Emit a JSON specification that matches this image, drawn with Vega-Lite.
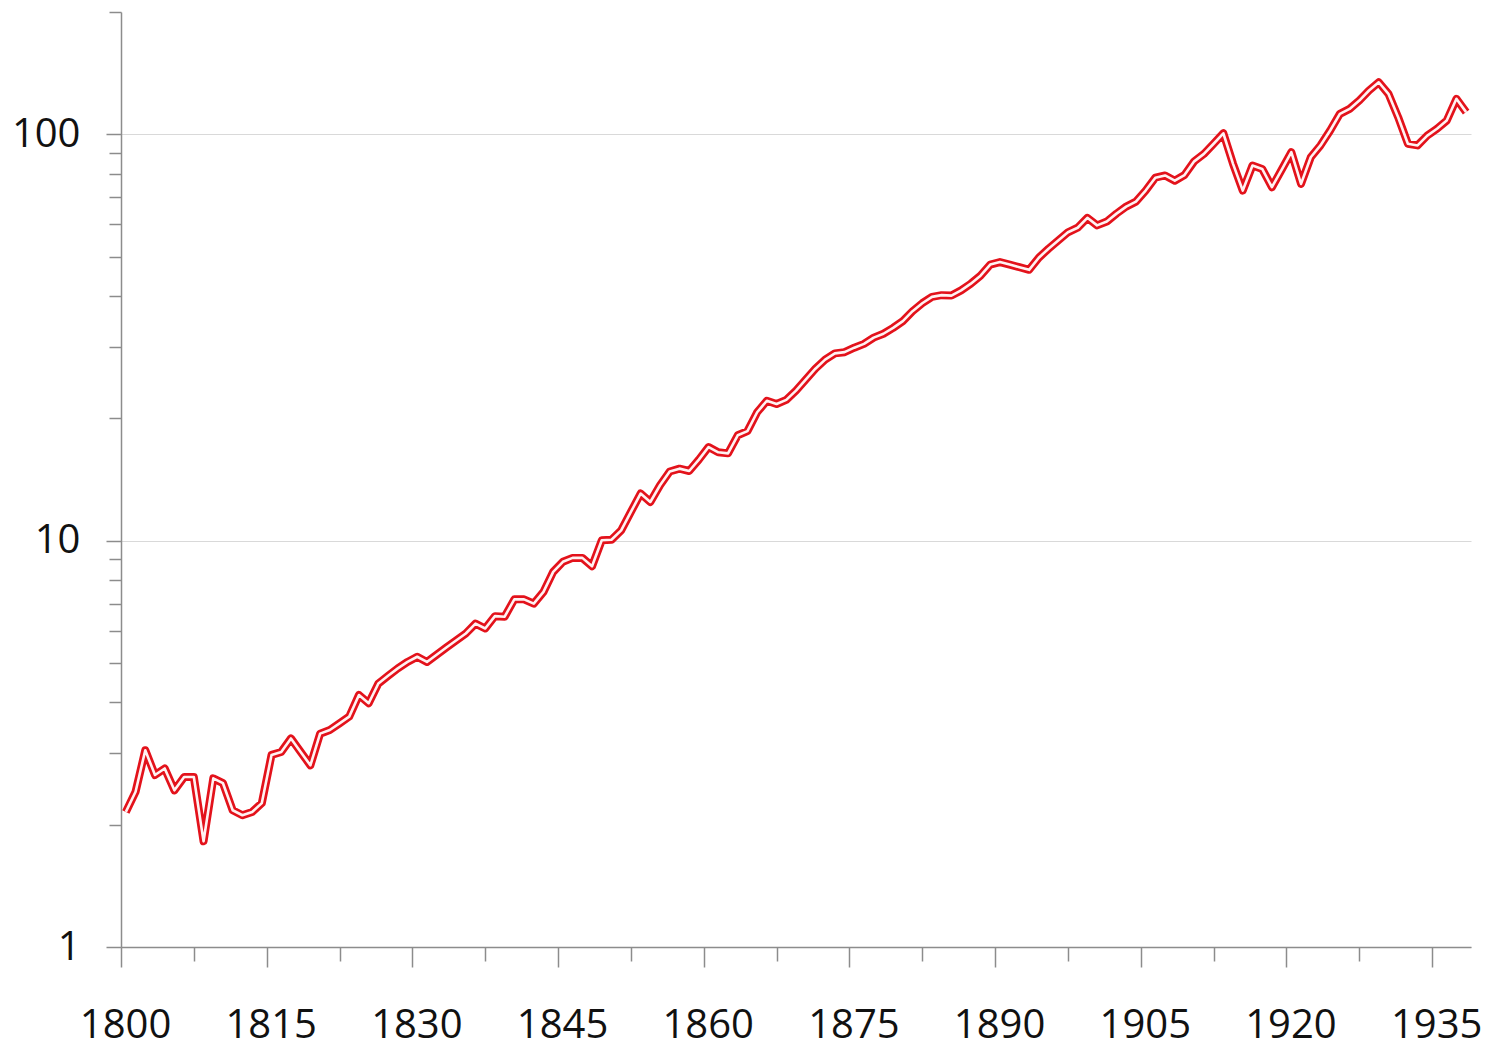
{
  "$schema": "https://vega.github.io/schema/vega-lite/v6.json",
  "width": 1350,
  "height": 935,
  "autosize": "none",
  "padding": {"left": 121, "top": 12, "right": 16, "bottom": 102},
  "background": "white",
  "config": {
    "view": {"stroke": null},
    "axis": {"labelFont": "Open Sans", "labelFontSize": 40, "labelColor": "#111111", "domainColor": "#8c8c8c", "tickColor": "#8c8c8c", "domainWidth": 1.5, "tickWidth": 1.5, "title": null, "labelFlush": false, "labelOverlap": false, "labelBound": false}
  },
  "data": {"values": [
    {"year": 1800, "value": 2.15}, {"year": 1801, "value": 2.41}, {"year": 1802, "value": 3.05}, {"year": 1803, "value": 2.65},
    {"year": 1804, "value": 2.75}, {"year": 1805, "value": 2.43}, {"year": 1806, "value": 2.62}, {"year": 1807, "value": 2.62},
    {"year": 1808, "value": 1.82}, {"year": 1809, "value": 2.6}, {"year": 1810, "value": 2.53}, {"year": 1811, "value": 2.17},
    {"year": 1812, "value": 2.11}, {"year": 1813, "value": 2.15}, {"year": 1814, "value": 2.26}, {"year": 1815, "value": 2.97},
    {"year": 1816, "value": 3.02}, {"year": 1817, "value": 3.26}, {"year": 1818, "value": 3.02}, {"year": 1819, "value": 2.8},
    {"year": 1820, "value": 3.35}, {"year": 1821, "value": 3.42}, {"year": 1822, "value": 3.55}, {"year": 1823, "value": 3.69},
    {"year": 1824, "value": 4.17}, {"year": 1825, "value": 3.98}, {"year": 1826, "value": 4.45}, {"year": 1827, "value": 4.65},
    {"year": 1828, "value": 4.85}, {"year": 1829, "value": 5.03}, {"year": 1830, "value": 5.18}, {"year": 1831, "value": 5.03},
    {"year": 1832, "value": 5.24}, {"year": 1833, "value": 5.46}, {"year": 1834, "value": 5.68}, {"year": 1835, "value": 5.91},
    {"year": 1836, "value": 6.25}, {"year": 1837, "value": 6.08}, {"year": 1838, "value": 6.52}, {"year": 1839, "value": 6.5},
    {"year": 1840, "value": 7.17}, {"year": 1841, "value": 7.17}, {"year": 1842, "value": 7.0}, {"year": 1843, "value": 7.48},
    {"year": 1844, "value": 8.38}, {"year": 1845, "value": 8.87}, {"year": 1846, "value": 9.07}, {"year": 1847, "value": 9.07},
    {"year": 1848, "value": 8.65}, {"year": 1849, "value": 10.02}, {"year": 1850, "value": 10.05}, {"year": 1851, "value": 10.6},
    {"year": 1852, "value": 11.77}, {"year": 1853, "value": 13.06}, {"year": 1854, "value": 12.45}, {"year": 1855, "value": 13.69},
    {"year": 1856, "value": 14.8}, {"year": 1857, "value": 15.04}, {"year": 1858, "value": 14.84}, {"year": 1859, "value": 15.83},
    {"year": 1860, "value": 17.0}, {"year": 1861, "value": 16.5}, {"year": 1862, "value": 16.4}, {"year": 1863, "value": 18.17},
    {"year": 1864, "value": 18.6}, {"year": 1865, "value": 20.7}, {"year": 1866, "value": 22.1}, {"year": 1867, "value": 21.7},
    {"year": 1868, "value": 22.2}, {"year": 1869, "value": 23.4}, {"year": 1870, "value": 24.9}, {"year": 1871, "value": 26.5},
    {"year": 1872, "value": 27.9}, {"year": 1873, "value": 28.9}, {"year": 1874, "value": 29.1}, {"year": 1875, "value": 29.85},
    {"year": 1876, "value": 30.5}, {"year": 1877, "value": 31.6}, {"year": 1878, "value": 32.3}, {"year": 1879, "value": 33.4},
    {"year": 1880, "value": 34.7}, {"year": 1881, "value": 36.7}, {"year": 1882, "value": 38.4}, {"year": 1883, "value": 39.8},
    {"year": 1884, "value": 40.2}, {"year": 1885, "value": 40.1}, {"year": 1886, "value": 41.3}, {"year": 1887, "value": 42.9},
    {"year": 1888, "value": 44.9}, {"year": 1889, "value": 47.8}, {"year": 1890, "value": 48.5}, {"year": 1891, "value": 47.8},
    {"year": 1892, "value": 47.1}, {"year": 1893, "value": 46.4}, {"year": 1894, "value": 49.7}, {"year": 1895, "value": 52.3},
    {"year": 1896, "value": 54.8}, {"year": 1897, "value": 57.4}, {"year": 1898, "value": 58.9}, {"year": 1899, "value": 62.3},
    {"year": 1900, "value": 59.7}, {"year": 1901, "value": 61.0}, {"year": 1902, "value": 63.8}, {"year": 1903, "value": 66.4},
    {"year": 1904, "value": 68.3}, {"year": 1905, "value": 72.7}, {"year": 1906, "value": 78.2}, {"year": 1907, "value": 79.2},
    {"year": 1908, "value": 76.9}, {"year": 1909, "value": 79.4}, {"year": 1910, "value": 85.8}, {"year": 1911, "value": 89.5},
    {"year": 1912, "value": 94.8}, {"year": 1913, "value": 100.6}, {"year": 1914, "value": 84.6}, {"year": 1915, "value": 72.7},
    {"year": 1916, "value": 83.8}, {"year": 1917, "value": 82.2}, {"year": 1918, "value": 74.1}, {"year": 1919, "value": 81.8},
    {"year": 1920, "value": 90.4}, {"year": 1921, "value": 75.5}, {"year": 1922, "value": 87.8}, {"year": 1923, "value": 93.9},
    {"year": 1924, "value": 102.2}, {"year": 1925, "value": 112.3}, {"year": 1926, "value": 115.5}, {"year": 1927, "value": 121.1},
    {"year": 1928, "value": 128.2}, {"year": 1929, "value": 134.3}, {"year": 1930, "value": 125.8}, {"year": 1931, "value": 110.2},
    {"year": 1932, "value": 94.8}, {"year": 1933, "value": 93.9}, {"year": 1934, "value": 99.3}, {"year": 1935, "value": 103.2},
    {"year": 1936, "value": 108.1}, {"year": 1937, "value": 122.3}, {"year": 1938, "value": 113.4}
  ]},
  "layer": [
    {
      "mark": {"type": "line", "color": "#e3121b", "strokeWidth": 8, "strokeJoin": "round", "strokeCap": "butt"},
      "encoding": {
        "x": {"field": "year", "type": "quantitative",
          "scale": {"domain": [1799.5, 1938.5], "nice": false, "zero": false},
          "axis": {"orient": "bottom", "values": [1799.5, 1814.5, 1829.5, 1844.5, 1859.5, 1874.5, 1889.5, 1904.5, 1919.5, 1934.5],
            "labelExpr": "format(datum.value + 0.5, 'd')", "tickSize": 20, "labelPadding": 38, "labelOffset": 4, "grid": false}},
        "y": {"field": "value", "type": "quantitative",
          "scale": {"type": "log", "domain": [1, 200], "nice": false},
          "axis": {"orient": "left", "values": [1, 10, 100], "format": "d", "tickSize": 15, "labelPadding": 26,
            "grid": true, "gridColor": "#d9d9d9", "gridWidth": 1.2}}
      }
    },
    {
      "mark": {"type": "line", "color": "#fff2f2", "strokeWidth": 2.6, "strokeJoin": "round", "strokeCap": "butt"},
      "encoding": {
        "x": {"field": "year", "type": "quantitative",
          "axis": {"orient": "bottom", "values": [1807, 1822, 1837, 1852, 1867, 1882, 1897, 1912, 1927],
            "labels": false, "tickSize": 14, "domain": false, "grid": false}},
        "y": {"field": "value", "type": "quantitative",
          "axis": {"orient": "left", "values": [2, 3, 4, 5, 6, 7, 8, 9, 20, 30, 40, 50, 60, 70, 80, 90, 200],
            "labels": false, "tickSize": 12, "domain": false, "grid": false}}
      }
    }
  ],
  "resolve": {"axis": {"x": "independent", "y": "independent"}}
}
